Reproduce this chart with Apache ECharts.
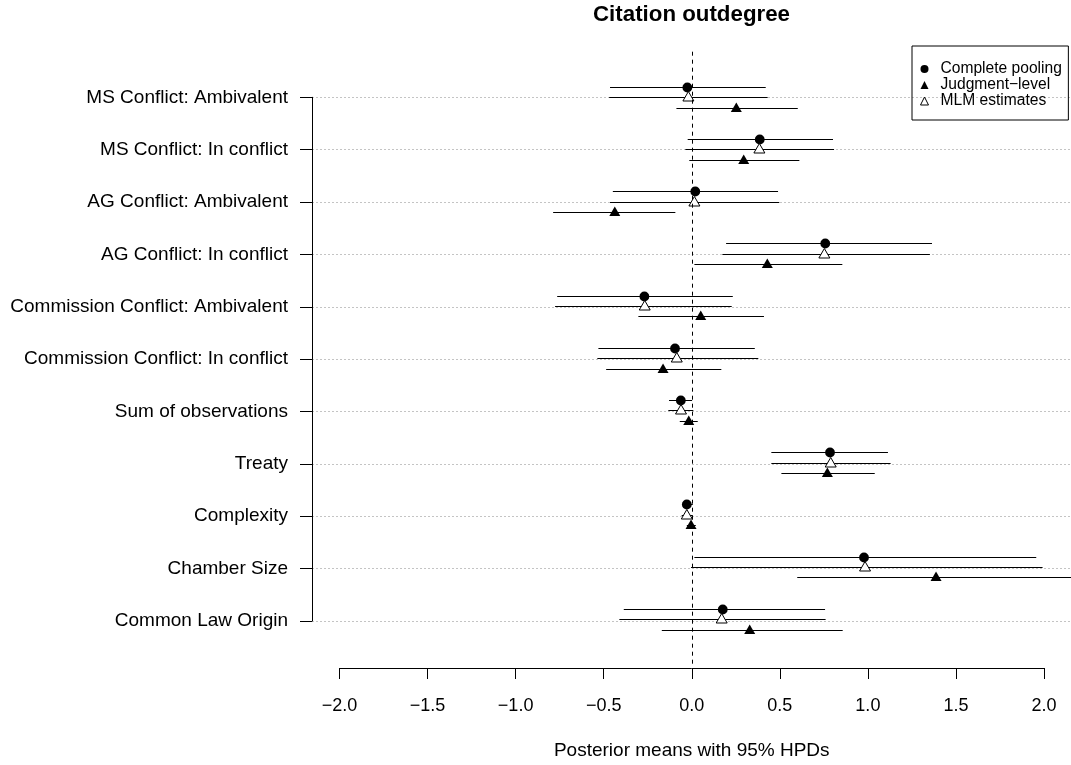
<!DOCTYPE html>
<html>
<head>
<meta charset="utf-8">
<title>Citation outdegree</title>
<script src="https://cdn.jsdelivr.net/npm/echarts@6/dist/echarts.min.js"></script>
<style>
  html, body { margin: 0; padding: 0; background: #fff; }
  #chart { width: 1071px; height: 765px; }
</style>
</head>
<body>
<div id="chart"></div>
<script>
// Rows, top to bottom
var categories = [
    "MS Conflict: Ambivalent",
    "MS Conflict: In conflict",
    "AG Conflict: Ambivalent",
    "AG Conflict: In conflict",
    "Commission Conflict: Ambivalent",
    "Commission Conflict: In conflict",
    "Sum of observations",
    "Treaty",
    "Complexity",
    "Chamber Size",
    "Common Law Origin"
];

// Complete pooling (filled circle)
var poolMean = [-0.025, 0.386, 0.020, 0.758, -0.269, -0.095, -0.062, 0.785, -0.028, 0.978, 0.176];
var poolLow  = [-0.464, -0.023, -0.448, 0.195, -0.764, -0.530, -0.129, 0.452, -0.048, 0.015, -0.386];
var poolHigh = [0.420, 0.802, 0.490, 1.364, 0.233, 0.358, 0.002, 1.114, 0.006, 1.956, 0.757];

// Judgment-level (filled triangle)
var judgMean = [0.253, 0.295, -0.437, 0.429, 0.051, -0.163, -0.017, 0.770, -0.004, 1.387, 0.329];
var judgLow  = [-0.087, -0.014, -0.787, 0.015, -0.303, -0.486, -0.068, 0.509, -0.028, 0.599, -0.170];
var judgHigh = [0.602, 0.611, -0.093, 0.855, 0.410, 0.168, 0.034, 1.039, 0.023, 2.250, 0.857];

// MLM estimates (open triangle)
var mlmMean = [-0.019, 0.384, 0.015, 0.753, -0.267, -0.085, -0.061, 0.789, -0.028, 0.984, 0.170];
var mlmLow  = [-0.469, -0.036, -0.464, 0.174, -0.776, -0.536, -0.133, 0.452, -0.057, -0.004, -0.411];
var mlmHigh = [0.431, 0.808, 0.497, 1.352, 0.227, 0.378, 0.009, 1.129, 0.006, 1.992, 0.760];

var xTicksMin = -2, xTicksMax = 2, xTickStep = 0.5;

// Layout (pixels)
var plotTop = 51.7, plotBottom = 667;
var rowTop = 97.3, rowBottom = 621;
var rowStep = (rowBottom - rowTop) / (categories.length - 1);
var font = "'Liberation Sans', Arial, Helvetica, sans-serif";

function rows(mean, low, high) {
    return mean.map(function (v, i) { return [v, i, low[i], high[i]]; });
}

/**
 * Builds a renderItem for one estimator: an interval line plus a marker.
 */
function makeRenderer(shape, dy) {
    return function (params, api) {
        var y = api.value(1);
        var p = api.coord([api.value(0), y]);
        var lo = api.coord([api.value(2), y]);
        var hi = api.coord([api.value(3), y]);
        var cx = p[0];
        var cy = Math.round(p[1] + dy) + 0.5; // crisp 1px lines
        var children = [{
            type: "line",
            shape: { x1: lo[0], y1: cy, x2: hi[0], y2: cy },
            style: { stroke: "#000", lineWidth: 1 }
        }];
        if (shape === "circle") {
            children.push({
                type: "circle",
                shape: { cx: cx, cy: cy, r: 4.9 },
                style: { fill: "#000" }
            });
        } else {
            children.push({
                type: "polygon",
                shape: { points: [[cx, cy - 6], [cx - 5.5, cy + 3.5], [cx + 5.5, cy + 3.5]] },
                style: shape === "open"
                    ? { fill: "#fff", stroke: "#000", lineWidth: 1 }
                    : { fill: "#000" }
            });
        }
        return { type: "group", children: children };
    };
}

var chart = echarts.init(document.getElementById("chart"), null, { renderer: "canvas" });

var options = {
    animation: false,
    backgroundColor: "#fff",
    title: {
        text: "Citation outdegree",
        left: 691.5,
        top: 4,
        padding: 0,
        textAlign: "center",
        textStyle: { fontFamily: font, fontSize: 22.3, fontWeight: "bold", color: "#000" }
    },
    legend: {
        orient: "vertical",
        left: 912,
        top: 46,
        padding: [15, 6.5, 11, 8],
        itemGap: 0,
        itemWidth: 8,
        itemHeight: 8,
        selectedMode: false,
        borderColor: "#000",
        borderWidth: 1,
        borderRadius: 0,
        textStyle: { fontFamily: font, fontSize: 15.6, lineHeight: 16, color: "#000", padding: [0, 0, 0, 7] },
        data: [
            { name: "Complete pooling", icon: "circle", itemStyle: { color: "#000" } },
            { name: "Judgment\u2212level", icon: "triangle", itemStyle: { color: "#000" } },
            { name: "MLM estimates", icon: "triangle",
              itemStyle: { color: "#fff", borderColor: "#000", borderWidth: 1 } }
        ]
    },
    grid: [
        { // plot region, carries the data and the x axis
            left: 339.5, width: 704.5,
            top: plotTop, height: plotBottom - plotTop
        },
        { // y axis with its labels and dotted guide lines
            left: 312, right: 0,
            top: rowTop, height: rowBottom - rowTop
        }
    ],
    xAxis: [
        {
            gridIndex: 0,
            type: "value",
            min: xTicksMin,
            max: xTicksMax,
            interval: xTickStep,
            offset: 3,
            axisLine: { show: true, onZero: false, lineStyle: { color: "#000", width: 1 } },
            axisTick: { show: true, length: 11, lineStyle: { color: "#000" } },
            axisLabel: {
                margin: 29,
                fontFamily: font, fontSize: 18, color: "#000",
                formatter: function (v) {
                    return (v < 0 ? "\u2212" : "") + Math.abs(v).toFixed(1);
                }
            },
            splitLine: { show: false },
            name: "Posterior means with 95% HPDs",
            nameLocation: "middle",
            nameGap: 73,
            nameTextStyle: { fontFamily: font, fontSize: 19, color: "#000" }
        },
        {
            gridIndex: 1,
            type: "value",
            show: false
        }
    ],
    yAxis: [
        {
            gridIndex: 0,
            type: "value",
            inverse: true,
            min: -(rowTop - plotTop) / rowStep,
            max: (plotBottom - rowTop) / rowStep,
            show: false
        },
        {
            gridIndex: 1,
            type: "category",
            inverse: true,
            boundaryGap: false,
            data: categories,
            axisLine: { show: true, onZero: false, lineStyle: { color: "#000", width: 1 } },
            axisTick: { show: true, length: 12, alignWithLabel: true, lineStyle: { color: "#000" } },
            axisLabel: { margin: 24, fontFamily: font, fontSize: 19, color: "#000", interval: 0 },
            splitLine: { show: true, lineStyle: { color: "#c4c4c4", type: [2, 2], width: 1 } }
        }
    ],
    series: [
        {
            name: "Complete pooling",
            type: "custom",
            xAxisIndex: 0, yAxisIndex: 0,
            itemStyle: { color: "#000" },
            encode: { x: [0, 2, 3], y: 1 },
            renderItem: makeRenderer("circle", -10.4),
            data: rows(poolMean, poolLow, poolHigh),
            markLine: {
                silent: true,
                symbol: "none",
                label: { show: false },
                lineStyle: { color: "#000", width: 1, type: [4, 4] },
                data: [{ xAxis: 0 }]
            }
        },
        {
            name: "Judgment\u2212level",
            type: "custom",
            xAxisIndex: 0, yAxisIndex: 0,
            itemStyle: { color: "#000" },
            encode: { x: [0, 2, 3], y: 1 },
            renderItem: makeRenderer("filled", 10.4),
            data: rows(judgMean, judgLow, judgHigh)
        },
        {
            name: "MLM estimates",
            type: "custom",
            xAxisIndex: 0, yAxisIndex: 0,
            itemStyle: { color: "#fff", borderColor: "#000", borderWidth: 1 },
            encode: { x: [0, 2, 3], y: 1 },
            renderItem: makeRenderer("open", 0),
            data: rows(mlmMean, mlmLow, mlmHigh)
        }
    ]
};

chart.setOption(options);
</script>
</body>
</html>
